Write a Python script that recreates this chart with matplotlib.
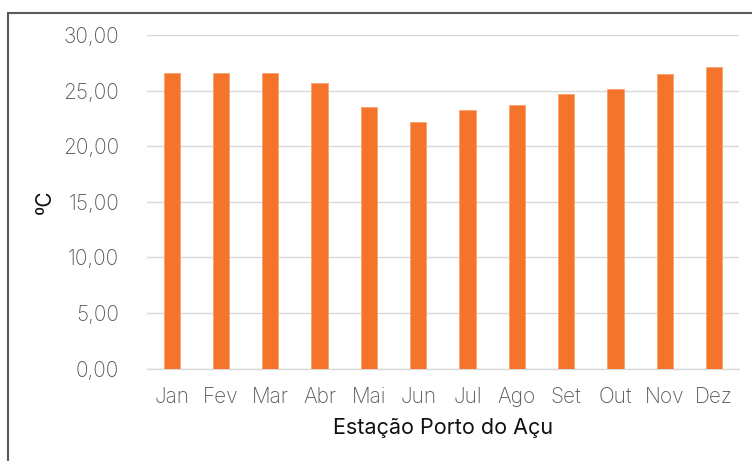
import matplotlib.pyplot as plt
from matplotlib.patches import Rectangle
from matplotlib.ticker import FuncFormatter

months = ["Jan", "Fev", "Mar", "Abr", "Mai", "Jun", "Jul", "Ago", "Set", "Out", "Nov", "Dez"]
temps = [26.57, 26.57, 26.57, 25.67, 23.5, 22.15, 23.23, 23.68, 24.67, 25.13, 26.48, 27.11]
yticks = [0, 5, 10, 15, 20, 25, 30]

plt.rcParams['font.family'] = ['Inter', 'DejaVu Sans']
plt.rcParams['font.weight'] = 'light'

fig = plt.figure(figsize=(7.52, 4.61), dpi=100)
ax = fig.add_axes([0.1955, 0.2002, 0.7868, 0.7238])

# outer frame of the chart box
fig.patches.append(Rectangle((8 / 752, -0.05), 1.0, 1 - 13 / 461 + 0.05,
                             transform=fig.transFigure, fill=False,
                             edgecolor='#595959', linewidth=1.5))

ax.bar(range(len(months)), temps, width=0.33, color='#F3742A',
       edgecolor='#F8A070', linewidth=0.6, zorder=3)

ax.set_xlim(-0.5, len(months) - 0.5)
ax.set_ylim(0, 30)
ax.set_yticks(yticks)
ax.yaxis.set_major_formatter(FuncFormatter(lambda v, p: f"{v:.2f}".replace('.', ',')))
ax.set_xticks(range(len(months)))
ax.set_xticklabels(months)

ax.grid(axis='y', color='#d9d9d9', linewidth=1, zorder=0)
for s in ['top', 'right', 'left']:
    ax.spines[s].set_visible(False)
ax.spines['bottom'].set_color('#d9d9d9')
ax.spines['bottom'].set_linewidth(1)
ax.tick_params(axis='both', length=0, labelsize=15, labelcolor='#595959')
ax.tick_params(axis='y', pad=20)
ax.tick_params(axis='x', pad=13)

ax.set_xlabel("Estação Porto do Açu", fontsize=15.5, fontweight='normal',
              color='#111111', labelpad=8)
ax.set_ylabel("ºC", fontsize=15, fontweight='normal', color='#111111', labelpad=6)

fig.savefig("out.png", dpi=100)
plt.close(fig)
